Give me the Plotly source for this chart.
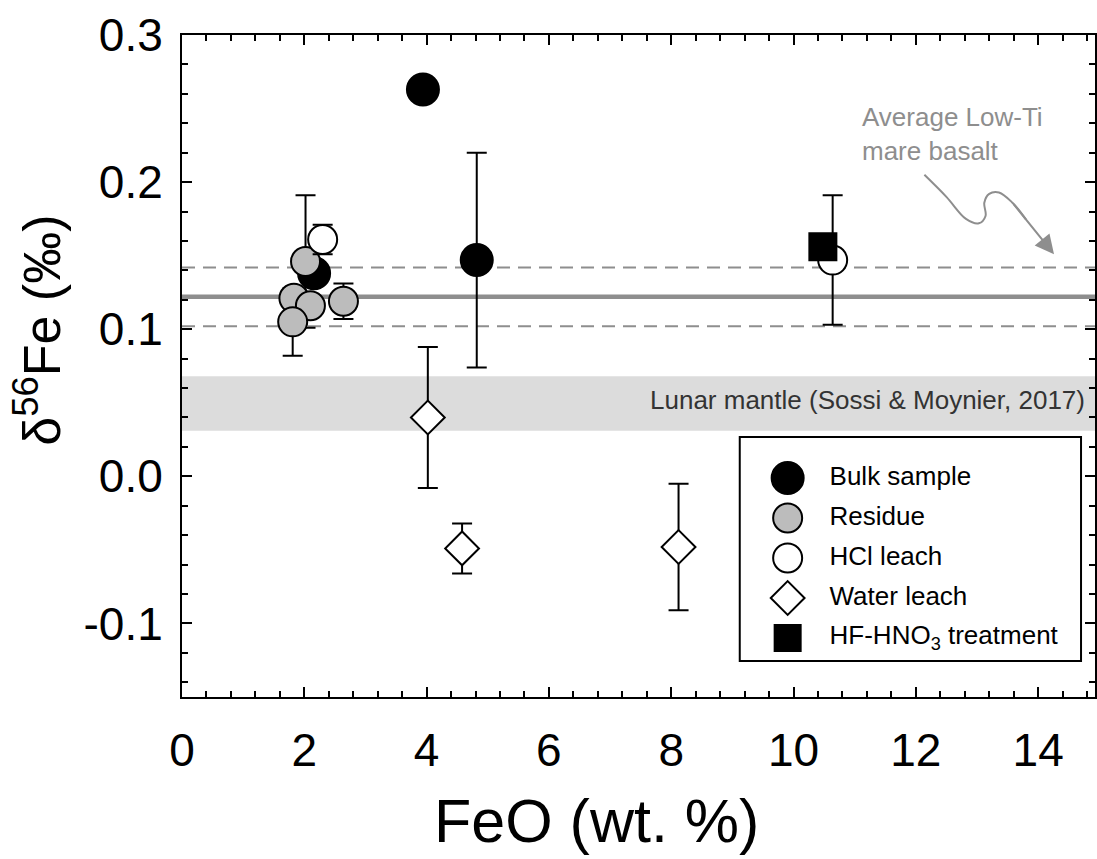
import plotly.graph_objects as go

# ---------------- data ----------------
bulk_feo = [3.94, 4.82, 2.16]
bulk_d56 = [0.263, 0.147, 0.138]
bulk_err = [None, 0.073, None]

res_feo = [2.02, 1.83, 2.10, 1.81, 2.64]
res_d56 = [0.146, 0.121, 0.116, 0.105, 0.119]
res_err = [0.045, None, None, 0.023, 0.012]

hcl_feo = [2.30, 10.64]
hcl_d56 = [0.161, 0.147]
hcl_err = [0.010, 0.044]

water_feo = [4.02, 4.58, 8.12]
water_d56 = [0.040, -0.049, -0.048]
water_err = [0.048, 0.017, 0.043]

hf_feo = [10.48]
hf_d56 = [0.156]

lowti_mean = 0.122
lowti_sd = 0.020
mantle_lo, mantle_hi = 0.031, 0.068

arrow_x = [12.14, 12.50, 12.82, 13.03, 13.14, 13.12, 13.20, 13.36, 13.58, 13.80]
arrow_y = [0.205, 0.190, 0.175, 0.172, 0.177, 0.186, 0.192, 0.193, 0.186, 0.1747]
arrow_tip = (14.26, 0.151)

y_ticks = [-0.1, 0.0, 0.1, 0.2, 0.3]
y_ticklabels = ["-0.1", "0.0", "0.1", "0.2", "0.3"]
x_ticks = [0, 2, 4, 6, 8, 10, 12, 14]

legend_names = ["Bulk sample", "Residue", "HCl leach", "Water leach", "HF-HNO<sub>3</sub> treatment"]

FONT = "Liberation Sans, Arial, Helvetica, sans-serif"
GRAY = "#8e8e8e"

fig = go.Figure()

def add_series(x, y, err, symbol, size, fill, name):
    ey = dict(type="data", array=err, visible=True, color="black", thickness=2, width=10) if err else None
    fig.add_trace(go.Scatter(
        x=x, y=y, mode="markers", name=name, showlegend=False,
        marker=dict(symbol=symbol, size=size, color=fill, line=dict(color="black", width=2)),
        error_y=ey, hoverinfo="x+y+name"))

add_series(bulk_feo, bulk_d56, bulk_err, "circle", 32, "black", legend_names[0])
add_series(res_feo, res_d56, res_err, "circle", 29, "#bcbcbc", legend_names[1])
add_series(hcl_feo, hcl_d56, hcl_err, "circle", 29, "white", legend_names[2])
add_series(water_feo, water_d56, water_err, "diamond", 26, "white", legend_names[3])
add_series(hf_feo, hf_d56, None, "square", 27, "black", legend_names[4])

# squiggly arrow
fig.add_trace(go.Scatter(x=arrow_x, y=arrow_y, mode="lines", line=dict(color=GRAY, width=2, shape="spline"),
                         showlegend=False, hoverinfo="skip"))
fig.add_annotation(x=arrow_tip[0], y=arrow_tip[1], ax=arrow_x[-2], ay=arrow_y[-2], axref="x", ayref="y",
                   xref="x", yref="y", showarrow=True, arrowhead=2, arrowsize=1.9, arrowwidth=2,
                   arrowcolor=GRAY, text="")

# reference lines and band
fig.add_shape(type="rect", xref="paper", x0=0, x1=1, yref="y", y0=mantle_lo, y1=mantle_hi,
              fillcolor="#dcdcdc", line=dict(width=0), layer="below")
fig.add_shape(type="line", xref="paper", x0=0, x1=1, yref="y", y0=lowti_mean, y1=lowti_mean,
              line=dict(color=GRAY, width=4.5), layer="below")
for v in (lowti_mean + lowti_sd, lowti_mean - lowti_sd):
    fig.add_shape(type="line", xref="paper", x0=0, x1=1, yref="y", y0=v, y1=v,
                  line=dict(color=GRAY, width=2, dash="13px,8px"), layer="below")

fig.add_annotation(x=14.8, y=0.052, xref="x", yref="y", xanchor="right", yanchor="middle",
                   text="Lunar mantle (Sossi &amp; Moynier, 2017)", showarrow=False,
                   font=dict(family=FONT, size=26, color="#333333"))
fig.add_annotation(x=11.09, y=0.256, xref="x", yref="y", xanchor="left", yanchor="top", align="left",
                   text="Average Low-Ti<br>mare basalt", showarrow=False,
                   font=dict(family=FONT, size=26, color=GRAY))

# custom legend (separate hidden axes so markers keep their true size)
leg_rows = [41, 81, 121, 161, 201]
leg_styles = [("circle", 32, "black"), ("circle", 29, "#bcbcbc"), ("circle", 29, "white"),
              ("diamond", 26, "white"), ("square", 26, "black")]
fig.add_shape(type="rect", xref="x2 domain", yref="y2 domain", x0=0, x1=1, y0=0, y1=1,
              line=dict(color="black", width=2), fillcolor="white", layer="below")
for row, (sym, sz, col), name in zip(leg_rows, leg_styles, legend_names):
    fig.add_trace(go.Scatter(x=[48], y=[row], xaxis="x2", yaxis="y2", mode="markers", showlegend=False,
                             marker=dict(symbol=sym, size=sz, color=col, line=dict(color="black", width=2)),
                             hoverinfo="skip"))
    fig.add_trace(go.Scatter(x=[90], y=[row], xaxis="x2", yaxis="y2", mode="text", text=[name],
                             textposition="middle right", showlegend=False, hoverinfo="skip",
                             textfont=dict(family=FONT, size=26, color="black")))

# axis titles
fig.add_annotation(x=0.4536, y=-0.188, xref="paper", yref="paper", text="FeO (wt. %)", showarrow=False,
                   xanchor="center", yanchor="middle", font=dict(family=FONT, size=61, color="black"))
fig.add_annotation(x=-0.158, y=0.5544, xref="paper", yref="paper", text="δ<sup>56</sup>Fe (‰)",
                   showarrow=False, textangle=-90, xanchor="center", yanchor="middle",
                   font=dict(family=FONT, size=52, color="black"))

axis_common = dict(showline=True, linecolor="black", linewidth=2, mirror="allticks", ticks="inside",
                   tickcolor="black", tickwidth=2, ticklen=10, showgrid=False, zeroline=False,
                   tickfont=dict(family=FONT, size=46, color="black"))

fig.update_layout(
    width=1097, height=859,
    margin=dict(l=182, r=0, t=35, b=162),
    paper_bgcolor="white", plot_bgcolor="rgba(0,0,0,0)",
    showlegend=False,
    xaxis=dict(range=[0, 14.93], tickvals=x_ticks, ticklabelstandoff=12,
               minor=dict(dtick=0.4, tick0=0, ticks="inside", ticklen=6, tickwidth=2, tickcolor="black"),
               **axis_common),
    yaxis=dict(range=[-0.15, 0.3], tickvals=y_ticks, ticktext=y_ticklabels, ticklabelstandoff=8,
               minor=dict(dtick=0.02, tick0=0, ticks="inside", ticklen=6, tickwidth=2, tickcolor="black"),
               **axis_common),
    xaxis2=dict(domain=[0.6109, 0.9847], range=[0, 342], anchor="y2", visible=False, fixedrange=True),
    yaxis2=dict(domain=[0.0544, 0.3927], range=[224, 0], anchor="x2", visible=False, fixedrange=True),
)

fig.write_html("out.html")
